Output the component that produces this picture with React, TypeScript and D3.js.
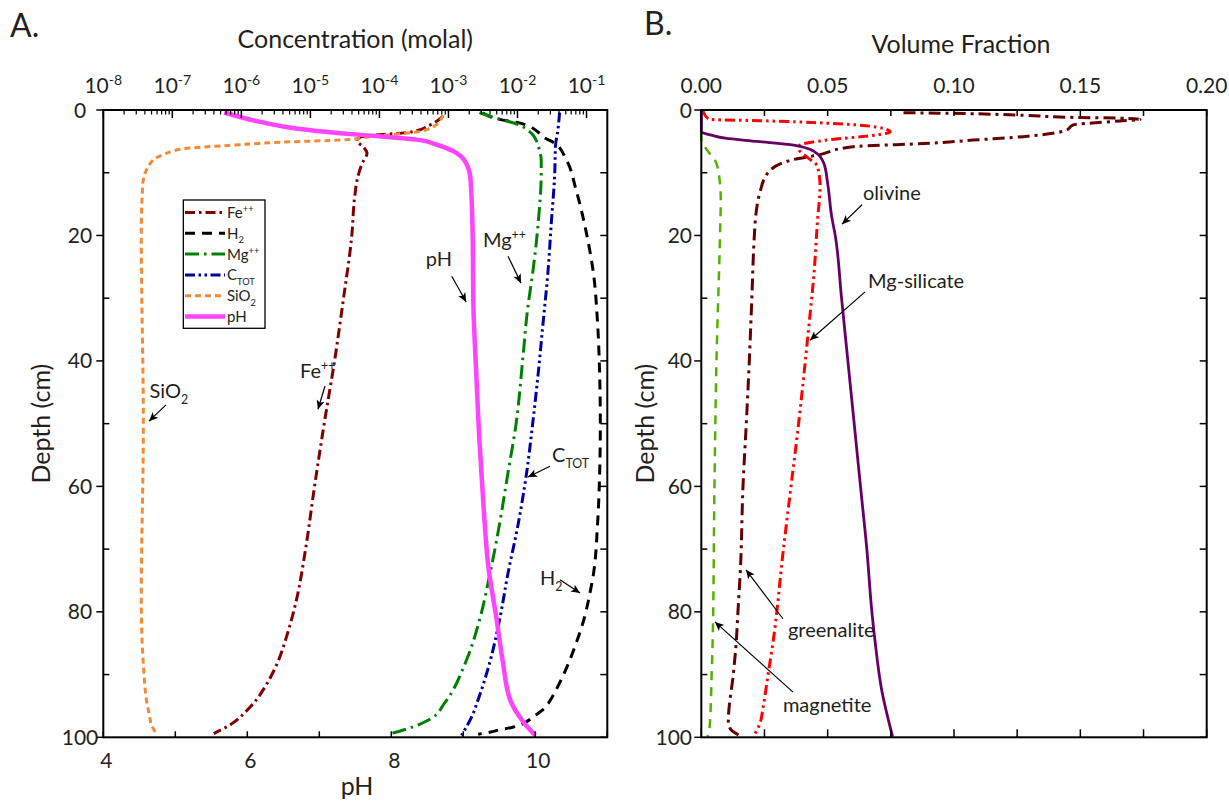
import React from "react";
import * as d3 from "d3";

type Pt = [number, number]; // [depth (cm), value]

// ---------- Panel A: log10 concentration (molal) vs depth ----------
const fePlusLog: Pt[] = [
  [1.0, -3.08], [2.4, -3.27], [3.5, -3.54], [4.3, -4.27], [4.9, -4.33], [5.8, -4.24],
  [6.9, -4.18], [8.5, -4.25], [11, -4.32], [14, -4.36], [20, -4.4], [30, -4.52],
  [40, -4.65], [50, -4.8], [60, -4.94], [70, -5.07], [78, -5.2], [83.4, -5.33],
  [88.7, -5.5], [92, -5.66], [94, -5.78], [95.6, -5.91], [98, -6.16], [99.4, -6.4],
];
const h2Log: Pt[] = [
  [0.5, -2.5], [1.5, -2.26], [2.1, -1.96], [3.7, -1.68], [4.4, -1.61], [5.3, -1.46],
  [8, -1.29], [12.8, -1.15], [19.7, -1.0], [26, -0.9], [34, -0.84], [42, -0.81],
  [50, -0.8], [58, -0.81], [66, -0.84], [74, -0.9], [77, -0.95], [81.3, -1.04],
  [85, -1.15], [88.7, -1.28], [92, -1.42], [94, -1.52], [95.6, -1.63], [96.4, -1.73],
  [98.4, -2.07], [98.8, -2.26], [99.2, -2.4], [99.5, -2.57],
];
const mgPlusLog: Pt[] = [
  [0.4, -2.55], [1.3, -2.31], [2.2, -2.02], [3.7, -1.8], [4.8, -1.73], [6.5, -1.68],
  [8, -1.656], [10, -1.656], [18, -1.7], [26, -1.78], [31.4, -1.85], [39.3, -1.92],
  [50, -2.02], [58, -2.14], [66, -2.26], [74, -2.4], [81.3, -2.55], [88, -2.75],
  [94.6, -3.06], [97, -3.25], [98.7, -3.61], [99.4, -3.83],
];
const cTotLog: Pt[] = [
  [0.4, -1.39], [3.2, -1.415], [5.8, -1.45], [10, -1.46], [18, -1.51], [26, -1.56],
  [34, -1.63], [42, -1.7], [50, -1.78], [58, -1.87], [66, -1.99], [74, -2.14],
  [81.3, -2.26], [88, -2.4], [94, -2.57], [96.4, -2.65], [99.7, -2.81],
];
const sio2Log: Pt[] = [
  [0.8, -3.08], [1.3, -3.1], [2.4, -3.18], [3.5, -3.46], [4.2, -4.1], [4.8, -4.57],
  [5.05, -5.25], [5.6, -6.12], [6.2, -6.84], [7.2, -7.15], [8.5, -7.32], [12, -7.43],
  [20, -7.45], [50, -7.42], [78, -7.45], [90, -7.41], [95, -7.36], [96.5, -7.33],
  [98.1, -7.3], [99.4, -7.23],
];
const pHValues: Pt[] = [
  [0.4, 5.68], [1.9, 6.18], [3.0, 6.7], [3.7, 7.29], [4.3, 7.95], [4.8, 8.4],
  [5.5, 8.62], [6.5, 8.85], [7.4, 8.97], [8.5, 9.04], [11, 9.1], [20, 9.13],
  [31, 9.14], [42, 9.18], [52, 9.22], [63, 9.28], [73, 9.35], [81, 9.46],
  [88, 9.55], [94, 9.65], [97.5, 9.83], [99.7, 10.0],
];

// ---------- Panel B: volume fraction vs depth ----------
const olivine: Pt[] = [
  [0, 0], [3.5, 0], [4.0, 0.004], [4.5, 0.0095], [5.0, 0.022], [5.6, 0.0366],
  [6.6, 0.0446], [8.5, 0.0485], [11.7, 0.05], [17, 0.0516], [20, 0.053], [30, 0.0555],
  [40, 0.058], [50, 0.0605], [60, 0.063], [70, 0.0655], [80, 0.0675], [84.5, 0.0687],
  [92.5, 0.0714], [99.9, 0.0757],
];
const mgSilicate: Pt[] = [
  [0.1, 0.0006], [1.5, 0.003], [1.7, 0.023], [2.1, 0.0496], [2.7, 0.069], [3.5, 0.0747],
  [4.0, 0.069], [4.8, 0.0496], [5.6, 0.039], [6.2, 0.0385], [7.4, 0.0415], [9, 0.046],
  [12.2, 0.047], [17.5, 0.046], [25, 0.0448], [36.7, 0.042], [50, 0.0385], [60, 0.0355],
  [70, 0.0325], [84.5, 0.0285], [89.8, 0.0265], [95.1, 0.0245], [97.8, 0.0232], [99.9, 0.0206],
];
const greenalite: Pt[] = [
  [0.43, 0.08], [0.5, 0.0944], [0.8, 0.1248], [1.2, 0.1499], [1.3, 0.1657], [1.5, 0.1736],
  [1.75, 0.1657], [2.4, 0.147], [3.2, 0.1446], [4.25, 0.1274], [4.8, 0.1076], [5.3, 0.0908],
  [5.85, 0.06], [7.2, 0.046], [8.0, 0.0354], [10.1, 0.0262], [13.3, 0.0231], [17, 0.0215],
  [20, 0.021], [30, 0.02], [40, 0.019], [50, 0.0178], [60, 0.0165], [73, 0.0155],
  [80, 0.0145], [85.5, 0.0137], [89.8, 0.0127], [97.5, 0.0107], [98.6, 0.0114], [99.9, 0.016],
];
const magnetite: Pt[] = [
  [1, 0], [4.7, 0], [6.4, 0.0023], [8, 0.0054], [10.1, 0.0069], [14.3, 0.0077],
  [20, 0.0074], [40, 0.006], [60, 0.0052], [84.5, 0.0045], [89.8, 0.0041], [97.8, 0.0034],
  [99.9, 0.0025],
];

// ---------- ticks ----------
const depthMajor = [0, 20, 40, 60, 80, 100];
const depthMinor = [10, 30, 50, 70, 90];
const depthAll = [0, 10, 20, 30, 40, 50, 60, 70, 80, 90, 100];
const concDecades = [-8, -7, -6, -5, -4, -3, -2, -1];
const pHTickLabels = [4, 6, 8, 10];
const pHTicksAll = [4, 5, 6, 7, 8, 9, 10, 11];
const volLabels = [0, 0.05, 0.1, 0.15, 0.2];
const volTicksAll = [0, 0.025, 0.05, 0.075, 0.1, 0.125, 0.15, 0.175, 0.2];

const FONT = "Lato, 'Open Sans', sans-serif";
const TXT = "#231f20";

type Rich = { base: string; sup?: string; sub?: string };

function RichText({ x, y, t, size, anchor = "start" }: { x: number; y: number; t: Rich; size: number; anchor?: string }) {
  return (
    <text x={x} y={y} fontSize={size} fill={TXT} textAnchor={anchor as any} fontFamily={FONT}>
      <tspan>{t.base}</tspan>
      {t.sup && (
        <tspan dy={-size * 0.4} fontSize={size * 0.62}>
          {t.sup}
        </tspan>
      )}
      {t.sub && (
        <tspan dy={size * 0.3} fontSize={size * 0.62}>
          {t.sub}
        </tspan>
      )}
    </text>
  );
}

export default function App() {
  const W = 1229, H = 802;
  const top = 110, bottom = 737.3;
  const aL = 103.3, aR = 607.3, bL = 701.3, bR = 1206.7;

  const y = d3.scaleLinear().domain([0, 100]).range([top, bottom]);
  const xC = d3.scaleLog().domain([1e-8, 0.2]).range([aL, aR]);
  const xP = d3.scaleLinear().domain([4, 11]).range([aL, aR]);
  const xV = d3.scaleLinear().domain([0, 0.2]).range([bL, bR]);
  const c = (lg: number) => xC(Math.pow(10, lg));

  const lineC = d3.line<Pt>().x((p) => c(p[1])).y((p) => y(p[0])).curve(d3.curveMonotoneY);
  const lineP = d3.line<Pt>().x((p) => xP(p[1])).y((p) => y(p[0])).curve(d3.curveMonotoneY);
  const lineV = d3.line<Pt>().x((p) => xV(p[1])).y((p) => y(p[0])).curve(d3.curveMonotoneY);

  const seriesA = [
    { label: { base: "Fe", sup: "++" }, d: lineC(fePlusLog), color: "#800000", dash: "10 4 2.5 4", w: 3 },
    { label: { base: "H", sub: "2" }, d: lineC(h2Log), color: "#000000", dash: "10 7", w: 3 },
    { label: { base: "Mg", sup: "++" }, d: lineC(mgPlusLog), color: "#008000", dash: "14 5 2.5 5", w: 3 },
    { label: { base: "C", sub: "TOT" }, d: lineC(cTotLog), color: "#0000a0", dash: "10 3.5 2.5 3.5 2.5 3.5", w: 3 },
    { label: { base: "SiO", sub: "2" }, d: lineC(sio2Log), color: "#f38a35", dash: "6 4", w: 3 },
    { label: { base: "pH" }, d: lineP(pHValues), color: "#ff44ff", dash: "", w: 4.5 },
  ];

  const seriesB = [
    { d: lineV(magnetite), color: "#55b000", dash: "9 7", w: 2.5 },
    { d: lineV(greenalite), color: "#660000", dash: "12 5 3 5", w: 3 },
    { d: lineV(mgSilicate), color: "#ff0000", dash: "10 4 2.5 4 2.5 4", w: 3 },
    { d: lineV(olivine), color: "#660066", dash: "", w: 2.8 },
  ];

  // annotation anchors: [depth, x-pixel from scale]
  const annA = [
    { t: { base: "SiO", sub: "2" }, text: [45.9, c(-7.33)], tail: [47.0, c(-7.092)], tip: [49.6, c(-7.338)] },
    { t: { base: "Fe", sup: "++" }, text: [42.7, c(-5.15)], tail: [44.0, c(-4.788)], tip: [47.7, c(-4.89)] },
    { t: { base: "pH" }, text: [24.9, xP(8.48)], tail: [26.5, xP(8.84)], tip: [30.6, xP(9.04)] },
    { t: { base: "Mg", sup: "++" }, text: [21.8, c(-2.5)], tail: [23.3, c(-2.137)], tip: [27.6, c(-1.949)] },
    { t: { base: "C", sub: "TOT" }, text: [56.1, c(-1.5)], tail: [56.8, c(-1.529)], tip: [58.5, c(-1.847)] },
    { t: { base: "H", sub: "2" }, text: [75.7, c(-1.674)], tail: [74.9, c(-1.384)], tip: [77.0, c(-1.094)] },
  ];
  const annB = [
    { t: { base: "olivine" }, text: [14.35, 0.064], tail: [15.1, 0.0636], tip: [18.2, 0.0557] },
    { t: { base: "Mg-silicate" }, text: [28.4, 0.066], tail: [29.0, 0.0648], tip: [36.7, 0.043] },
    { t: { base: "greenalite" }, text: [84.0, 0.0343], tail: [81.1, 0.0323], tip: [73.3, 0.0177] },
    { t: { base: "magnetite" }, text: [96.0, 0.0323], tail: [92.8, 0.0363], tip: [81.6, 0.0054] },
  ];

  const minorLog: number[] = [];
  concDecades.forEach((k) => {
    for (let m = 2; m <= 9; m++) {
      const v = m * Math.pow(10, k);
      if (v < 0.2) minorLog.push(v);
    }
  });

  const legendY0 = 212.5, legendDy = 20.8;
  const TICK = 21, TITLE = 25, ANN = 20;

  const leftAxis = (x0: number, labelX: number, anchor: string) => (
    <g>
      {depthMajor.map((d) => (
        <line key={"M" + d} x1={x0 - 7} x2={x0} y1={y(d)} y2={y(d)} stroke="#000" strokeWidth={1.5} />
      ))}
      {depthMinor.map((d) => (
        <line key={"m" + d} x1={x0} x2={x0 + 6} y1={y(d)} y2={y(d)} stroke="#000" strokeWidth={1.5} />
      ))}
      {depthMajor.map((d) => (
        <text key={"t" + d} x={labelX} y={y(d)} dy="0.36em" fontSize={TICK} fill={TXT} fontFamily={FONT} textAnchor={anchor as any}>
          {d}
        </text>
      ))}
    </g>
  );
  const rightAxis = (x0: number) => (
    <g>
      {depthAll.map((d) => (
        <line key={"r" + d} x1={x0 - 7} x2={x0} y1={y(d)} y2={y(d)} stroke="#000" strokeWidth={1.5} />
      ))}
    </g>
  );

  return (
    <svg width={W} height={H} style={{ position: "absolute", left: 0, top: 0, background: "#fff" }} fontFamily={FONT}>
      <defs>
        <marker id="arrowHead" viewBox="0 0 10 10" refX={10} refY={5} markerWidth={11} markerHeight={9} markerUnits="userSpaceOnUse" orient="auto">
          <path d="M0,0.5 L10,5 L0,9.5 L2.5,5 z" fill="#000" />
        </marker>
        <clipPath id="clipA">
          <rect x={aL} y={top - 3} width={aR - aL} height={bottom - top + 3} />
        </clipPath>
        <clipPath id="clipB">
          <rect x={bL - 2} y={top - 3} width={bR - bL + 2} height={bottom - top + 3} />
        </clipPath>
      </defs>
      <rect x={0} y={0} width={W} height={H} fill="#fff" />

      {/* ---------------- Panel A ---------------- */}
      <text x={10} y={37} fontSize={32} fill={TXT} fontFamily={FONT}>A.</text>
      <text x={(aL + aR) / 2} y={48} fontSize={TITLE} fill={TXT} textAnchor="middle" fontFamily={FONT}>
        Concentration (molal)
      </text>
      <text x={357} y={795} fontSize={TITLE} fill={TXT} textAnchor="middle" fontFamily={FONT}>pH</text>
      <text transform={`translate(50,${(top + bottom) / 2}) rotate(-90)`} fontSize={TITLE} fill={TXT} textAnchor="middle" fontFamily={FONT}>
        Depth (cm)
      </text>

      <g clipPath="url(#clipA)">
        {seriesA.map((s, i) => (
          <path key={i} d={s.d || ""} fill="none" stroke={s.color} strokeWidth={s.w} strokeDasharray={s.dash} strokeLinejoin="round" />
        ))}
      </g>

      {/* top log axis */}
      {concDecades.map((k) => (
        <g key={"dec" + k}>
          <line x1={c(k)} x2={c(k)} y1={top} y2={top + 8} stroke="#000" strokeWidth={1.5} />
          <text x={c(k)} y={93} fontSize={TICK} fill={TXT} textAnchor="middle" fontFamily={FONT}>
            <tspan>10</tspan>
            <tspan dy={-8.5} fontSize={14}>{String(k)}</tspan>
          </text>
        </g>
      ))}
      {minorLog.map((v, i) => (
        <line key={"ml" + i} x1={xC(v)} x2={xC(v)} y1={top} y2={top + 4.5} stroke="#000" strokeWidth={1.2} />
      ))}
      {/* bottom pH axis */}
      {pHTicksAll.map((p) => (
        <line key={"ph" + p} x1={xP(p)} x2={xP(p)} y1={bottom} y2={bottom - 6} stroke="#000" strokeWidth={1.5} />
      ))}
      {pHTickLabels.map((p) => (
        <text key={"phl" + p} x={xP(p) + 3} y={768} fontSize={TICK} fill={TXT} textAnchor="middle" fontFamily={FONT}>
          {p}
        </text>
      ))}
      {leftAxis(aL, 80, "middle")}
      {rightAxis(aR)}
      <rect x={aL} y={top} width={aR - aL} height={bottom - top} fill="none" stroke="#000" strokeWidth={2} />

      {/* legend */}
      <rect x={183.3} y={200} width={81.7} height={128.3} fill="#fff" stroke="#000" strokeWidth={1.3} />
      {seriesA.map((s, i) => (
        <g key={"lg" + i}>
          <line x1={185} x2={225} y1={legendY0 + i * legendDy} y2={legendY0 + i * legendDy} stroke={s.color} strokeWidth={s.w} strokeDasharray={s.dash} />
          <RichText x={227} y={legendY0 + i * legendDy + 5.5} t={s.label as Rich} size={15} />
        </g>
      ))}

      {/* annotations A */}
      {annA.map((a, i) => (
        <g key={"aa" + i}>
          <RichText x={a.text[1]} y={y(a.text[0])} t={a.t as Rich} size={ANN} />
          <line x1={a.tail[1]} y1={y(a.tail[0])} x2={a.tip[1]} y2={y(a.tip[0])} stroke="#000" strokeWidth={1.2} markerEnd="url(#arrowHead)" />
        </g>
      ))}

      {/* ---------------- Panel B ---------------- */}
      <text x={644} y={35} fontSize={32} fill={TXT} fontFamily={FONT}>B.</text>
      <text x={961} y={53} fontSize={TITLE} fill={TXT} textAnchor="middle" fontFamily={FONT}>
        Volume Fraction
      </text>
      <text transform={`translate(654,${(top + bottom) / 2}) rotate(-90)`} fontSize={TITLE} fill={TXT} textAnchor="middle" fontFamily={FONT}>
        Depth (cm)
      </text>

      <g clipPath="url(#clipB)">
        {seriesB.map((s, i) => (
          <path key={i} d={s.d || ""} fill="none" stroke={s.color} strokeWidth={s.w} strokeDasharray={s.dash} strokeLinejoin="round" />
        ))}
      </g>

      {volTicksAll.map((v) => (
        <g key={"vt" + v}>
          <line x1={xV(v)} x2={xV(v)} y1={top} y2={top + 6} stroke="#000" strokeWidth={1.5} />
          <line x1={xV(v)} x2={xV(v)} y1={bottom} y2={bottom - 8} stroke="#000" strokeWidth={1.5} />
        </g>
      ))}
      {volLabels.map((v) => (
        <text key={"vl" + v} x={xV(v)} y={93} fontSize={TICK} fill={TXT} textAnchor="middle" fontFamily={FONT}>
          {d3.format(".2f")(v)}
        </text>
      ))}
      {leftAxis(bL, 692, "end")}
      {rightAxis(bR)}
      <rect x={bL} y={top} width={bR - bL} height={bottom - top} fill="none" stroke="#000" strokeWidth={2} />

      {annB.map((a, i) => (
        <g key={"ab" + i}>
          <RichText x={xV(a.text[1])} y={y(a.text[0])} t={a.t as Rich} size={ANN} />
          <line x1={xV(a.tail[1])} y1={y(a.tail[0])} x2={xV(a.tip[1])} y2={y(a.tip[0])} stroke="#000" strokeWidth={1.2} markerEnd="url(#arrowHead)" />
        </g>
      ))}
    </svg>
  );
}
